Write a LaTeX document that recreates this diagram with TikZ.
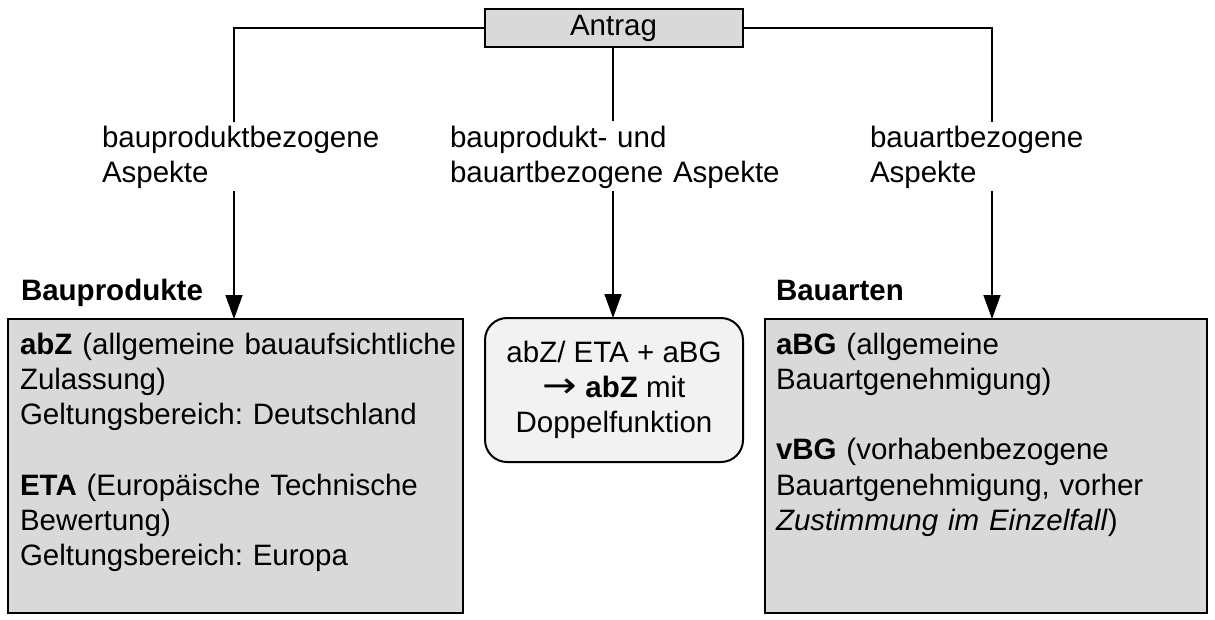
\documentclass[tikz,border=0pt]{standalone}
\usepackage{fontspec}
\setmainfont{Liberation Sans}
\newfontfamily\arrowfont{DejaVu Sans}
\usetikzlibrary{arrows.meta}
\definecolor{boxgrey}{HTML}{D9D9D9}
\definecolor{lightbox}{HTML}{F2F2F2}
\begin{document}
\frenchspacing
\begin{tikzpicture}[x=1pt,y=-1pt,
  every node/.style={font=\fontsize{29.5}{35.3}\selectfont\frenchspacing, inner sep=0pt, outer sep=0pt},
  line/.style={line width=1.5pt, black},
  arr/.style={line, -{Triangle[length=24pt,width=17pt]}},
  greybox/.style={draw=black, line width=2pt, fill=boxgrey},
  txt/.style={anchor=base west, align=left, text width=#1},
  head/.style={anchor=base west, font=\fontsize{29.5}{35.3}\selectfont\bfseries}
]
\useasboundingbox (0,0) rectangle (1215,619);

% top box
\node[greybox, minimum width=258pt, minimum height=38pt] (antrag) at (613.5,28) {Antrag};

% labels
\node[txt=300pt] (l1) at (102,147) {bauproduktbezogene\\Aspekte};
\node[txt=380pt] (l2) at (450,147) {bauprodukt- und\\bauartbezogene Aspekte};
\node[txt=300pt] (l3) at (870,147) {bauartbezogene\\Aspekte};

% headings
\node[head] (hbp) at (21,300) {Bauprodukte};
\node[head] (har) at (776,300) {Bauarten};

% boxes
\node[greybox, anchor=north west, minimum width=455pt, minimum height=294pt] (bp) at (8,319) {};
\node[greybox, anchor=north west, minimum width=442pt, minimum height=294pt] (ba) at (765,319) {};
\node[draw=black, line width=2pt, fill=lightbox, rounded corners=22pt,
      minimum width=258pt, minimum height=144pt, align=center] (mid) at (614,390)
      {abZ/ ETA + aBG\\{\arrowfont\scalebox{1.4}[1.2]{→}} \textbf{abZ} mit\\Doppelfunktion};

% box texts
\node[txt=440pt] (bptext) at (20,354)
 {\textbf{abZ} (allgemeine bauaufsichtliche\\Zulassung)\\Geltungsbereich: Deutschland\\[35.3pt]\textbf{ETA} (Europäische Technische\\Bewertung)\\Geltungsbereich: Europa};
\node[txt=430pt] (batext) at (776,354)
 {\textbf{aBG} (allgemeine\\Bauartgenehmigung)\\[35.3pt]\textbf{vBG} (vorhabenbezogene\\Bauartgenehmigung, vorher\\\textit{Zustimmung im Einzelfall})};

% connector points
\coordinate (t1) at (234,122);
\coordinate (b1) at (234,191);
\coordinate (t2) at (613,121);
\coordinate (b2) at (613,191);
\coordinate (t3) at (992,122);
\coordinate (b3) at (992,191);

\draw[line] (antrag.west) -| (t1);
\draw[line] (antrag.south -| t2) -- (t2);
\draw[line] (antrag.east) -| (t3);
\draw[arr] (b1) -- (b1 |- bp.north);
\draw[arr] (b2) -- (b2 |- mid.north);
\draw[arr] (b3) -- (b3 |- ba.north);
\end{tikzpicture}
\end{document}
